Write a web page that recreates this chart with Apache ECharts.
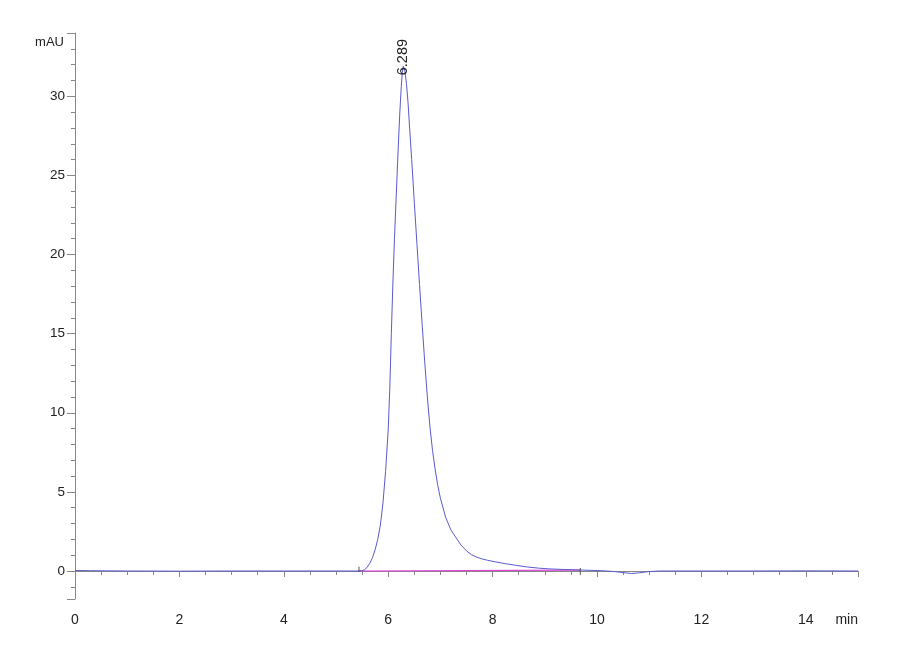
<!DOCTYPE html>
<html>
<head>
<meta charset="utf-8">
<script src="https://cdn.jsdelivr.net/npm/echarts@6/dist/echarts.min.js"></script>
<style>
html,body{margin:0;padding:0;background:#fff;}
#chart{width:900px;height:660px;}
</style>
</head>
<body>
<div id="chart"></div>
<script>
// Chromatogram signal (time in min, absorbance in mAU)
const signalTime = [0,0.3,0.6,1,2,3,4,5,5.4,5.5,5.55,5.6,5.65,5.7,5.75,5.8,5.85,5.9,5.95,6.0,6.03,6.06,6.09,6.12,6.16,6.19,6.22,6.25,6.27,6.289,6.32,6.35,6.38,6.41,6.45,6.5,6.55,6.6,6.65,6.7,6.75,6.8,6.85,6.9,6.95,7.0,7.1,7.2,7.3,7.4,7.5,7.6,7.7,7.8,7.9,8.05,8.25,8.44,8.65,8.88,9.1,9.33,9.68,10.09,10.35,10.5,10.66,10.8,10.98,11.2,12,13,14,15];
const signalMAU  = [0.03,0.02,0.01,0,-0.01,0,0,0,0,0.02,0.08,0.25,0.5,0.85,1.35,2.0,2.9,4.3,6.3,8.9,11.5,15.0,18.2,21.0,24.2,26.6,28.8,30.6,31.5,31.9,31.6,30.8,29.6,28.0,26.0,23.3,20.7,18.1,15.6,13.2,11.0,9.1,7.6,6.4,5.4,4.6,3.4,2.6,2.1,1.62,1.27,1.02,0.87,0.76,0.68,0.58,0.46,0.36,0.26,0.18,0.13,0.10,0.06,0.02,-0.04,-0.1,-0.16,-0.12,-0.04,0,0,0,0.01,0];
// Integration baseline (start, end)
const baseTime = [5.44, 9.68];
const baseMAU = [0, 0.06];
// Integration event markers
const startMarkTime = [5.44, 5.44];
const startMarkMAU = [-0.06, 0.27];
const endMarkTime = [9.68, 9.68];
const endMarkMAU = [-0.25, 0.19];
// Peak annotation
const peakRT = 6.289;
const peakHeight = 31.9;
const peakLabel = '6.289';
// Axis settings
const xTickLabels = [0,2,4,6,8,10,12,14];
const xUnit = 'min';
const yTickLabels = [0,5,10,15,20,25,30];
const yUnit = 'mAU';

const zip = (a, b) => a.map((v, i) => [v, b[i]]);
const font = 'Liberation Sans, Arial, sans-serif';

const chart = echarts.init(document.getElementById('chart'), null, {renderer: 'canvas'});
chart.setOption({
  animation: false,
  backgroundColor: '#ffffff',
  grid: {left: 75, right: 42, top: 33, bottom: 61, containLabel: false},
  xAxis: {
    type: 'value', min: 0, max: 15, interval: 2,
    axisLine: {show: true, lineStyle: {color: '#888', width: 1}},
    axisTick: {show: true, inside: false, length: 6, lineStyle: {color: '#888'}},
    minorTick: {show: true, splitNumber: 4, length: 4, lineStyle: {color: '#888'}},
    axisLabel: {color: '#222', fontFamily: font, fontSize: 14, margin: 14,
      showMaxLabel: true, alignMaxLabel: 'right',
      formatter: v => xTickLabels.includes(v) ? String(v) : (v === 15 ? xUnit : '')},
    splitLine: {show: false}
  },
  yAxis: {
    type: 'value', min: -1.77, max: 34, splitNumber: 7,
    name: yUnit, nameLocation: 'end', nameGap: -9,
    nameTextStyle: {color: '#222', fontFamily: font, fontSize: 13, align: 'right', verticalAlign: 'middle', padding: [0, 11, 0, 0]},
    axisLine: {show: true, onZero: false, lineStyle: {color: '#888', width: 1}},
    axisTick: {show: true, inside: false, length: 8, lineStyle: {color: '#888'}},
    minorTick: {show: true, splitNumber: 5, length: 4, lineStyle: {color: '#888'}},
    axisLabel: {color: '#222', fontFamily: font, fontSize: 13.5, margin: 10, showMinLabel: false, showMaxLabel: false,
      formatter: v => yTickLabels.includes(v) ? String(v) : ''},
    splitLine: {show: false}
  },
  series: [
    {
      type: 'line', data: zip(baseTime, baseMAU), symbol: 'none',
      lineStyle: {color: '#e040d8', width: 1.2}, z: 2
    },
    {
      type: 'line', data: zip(signalTime, signalMAU), symbol: 'none',
      smooth: false,
      lineStyle: {color: '#5a5ad0', width: 1}, z: 3,
      markPoint: {
        symbol: 'circle', symbolSize: 0,
        data: [{coord: [peakRT, peakHeight], value: peakLabel}],
        label: {show: true, formatter: peakLabel, position: 'top', distance: -9, rotate: 90,
          align: 'left', verticalAlign: 'middle',
          color: '#222', fontFamily: font, fontSize: 14.5}
      }
    },
    {
      type: 'line', data: zip(startMarkTime, startMarkMAU), symbol: 'none',
      lineStyle: {color: '#555', width: 1}, z: 4
    },
    {
      type: 'line', data: zip(endMarkTime, endMarkMAU), symbol: 'none',
      lineStyle: {color: '#555', width: 1}, z: 4
    }
  ]
});
</script>
</body>
</html>
